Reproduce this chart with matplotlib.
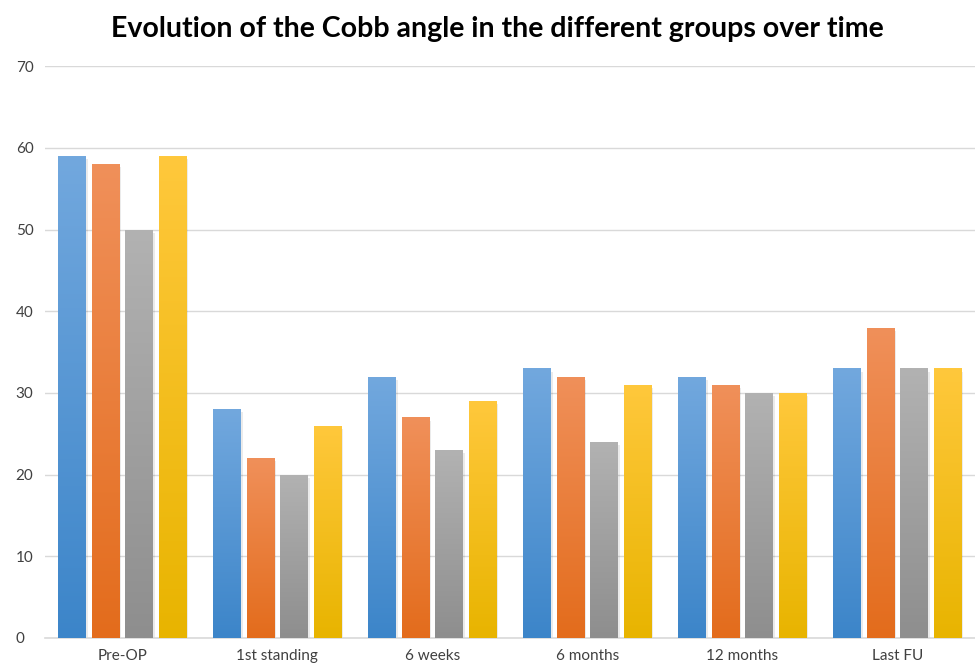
import numpy as np
import matplotlib
matplotlib.use("Agg")
import matplotlib.pyplot as plt
from matplotlib.colors import LinearSegmentedColormap

categories = ["Pre-OP", "1st standing", "6 weeks", "6 months", "12 months", "Last FU"]
group1 = [59, 28, 32, 33, 32, 33]
group2 = [58, 22, 27, 32, 31, 38]
group3 = [50, 20, 23, 24, 30, 33]
group4 = [59, 26, 29, 31, 30, 33]

# (top, bottom) gradient colours for each series
colors = [
    ("#72a8de", "#3c85c9"),
    ("#f0905a", "#e36c1c"),
    ("#b2b2b2", "#8e8e8e"),
    ("#ffc83c", "#e8b400"),
]

plt.rcParams["font.family"] = ["Lato", "DejaVu Sans"]

fig = plt.figure(figsize=(9.75, 6.68), dpi=100)
ax = fig.add_axes([0.046, 0.045, 0.954, 0.856])

x = np.arange(len(categories))
width = 0.178
step = 0.216
series = [group1, group2, group3, group4]

for i, vals in enumerate(series):
    offs = (i - 1.5) * step
    cmap = LinearSegmentedColormap.from_list(f"g{i}", [colors[i][1], colors[i][0]])
    bars = ax.bar(x + offs, vals, width, color="none", zorder=3)
    for b in bars:
        bx, by = b.get_x(), b.get_y()
        bw, bh = b.get_width(), b.get_height()
        # soft shadow
        ax.bar(bx + bw / 2 + 0.012, bh, bw, bottom=-0.4, color="#000000",
               alpha=0.08, zorder=2)
        grad = np.linspace(0, 1, 256).reshape(-1, 1)
        im = ax.imshow(grad, cmap=cmap, origin="lower", aspect="auto",
                       extent=[bx, bx + bw, by, by + bh], zorder=3)
        im.set_clip_path(b)

ax.set_xlim(-0.5, len(categories) - 0.5)
ax.set_ylim(0, 70)
ax.set_yticks(range(0, 71, 10))
ax.set_xticks(x)
ax.set_xticklabels(categories)
ax.tick_params(axis="both", length=0, labelsize=11, colors="#404040")
ax.tick_params(axis="x", pad=8)
ax.tick_params(axis="y", pad=21)
ax.grid(axis="y", color="#d9d9d9", linewidth=1, zorder=0)
for s in ["top", "right", "left"]:
    ax.spines[s].set_visible(False)
ax.spines["bottom"].set_color("#d9d9d9")
ax.spines["bottom"].set_linewidth(1.2)
for lbl in ax.get_yticklabels():
    lbl.set_horizontalalignment("left")

fig.text(0.51, 0.957, "Evolution of the Cobb angle in the different groups over time",
         ha="center", va="center", fontsize=20.5, fontweight="bold", color="#000000")

fig.savefig("out.png", dpi=100)
